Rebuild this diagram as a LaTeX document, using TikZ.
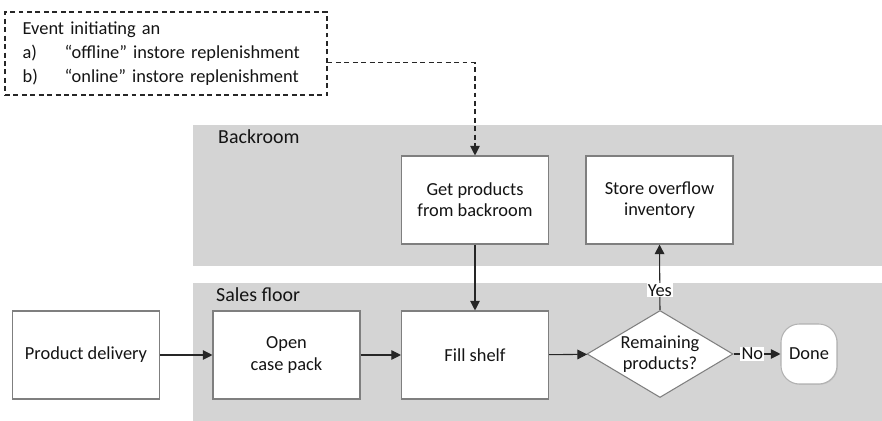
\documentclass[tikz,border=0pt]{standalone}
\usepackage{fontspec}
\setmainfont{Carlito}
\usetikzlibrary{arrows.meta,positioning,shapes.geometric,shadows}
\definecolor{fondo}{HTML}{D4D4D4}
\definecolor{borde}{HTML}{7F7F7F}
\definecolor{tinta}{HTML}{141414}
\definecolor{trazo}{HTML}{262626}
\tikzset{
  texto/.style={text=tinta,font=\fontsize{15.7}{18.2}\selectfont},
  paso/.style={texto,rectangle,draw=borde,fill=white,line width=0.9pt,minimum width=4.41cm,minimum height=2.64cm,align=center,inner sep=2pt},
  rombo/.style={diamond,draw=borde,fill=white,line width=0.9pt,minimum width=4.38cm,minimum height=2.61cm,inner sep=0pt},
  fin/.style={texto,rectangle,rounded corners=0.55cm,draw=borde!60,fill=white,line width=0.9pt,minimum width=1.68cm,minimum height=1.8cm,inner sep=0pt,
    drop shadow={shadow xshift=0.7pt,shadow yshift=-0.7pt,fill=black!30}},
  evento/.style={texto,font=\fontsize{15.7}{20.4}\selectfont,rectangle,draw=trazo,dash pattern=on 4.2pt off 3pt,line width=0.9pt,minimum width=9.66cm,minimum height=2.49cm,text width=8.6cm,align=left,inner xsep=0.53cm},
  zona/.style={text=tinta,font=\fontsize{17}{20}\selectfont,inner sep=0pt,anchor=west},
  flujo/.style={draw=trazo,line width=0.9pt,-{Triangle[length=2.9mm,width=2.9mm]}},
  flujoev/.style={flujo,dash pattern=on 4.2pt off 3pt},
  resp/.style={texto,fill=white,inner sep=1pt},
}

\begin{document}
\begin{tikzpicture}[x=0.03cm,y=-0.03cm]
  \useasboundingbox (0,0) rectangle (882,421);
  % store areas
  \fill[fondo] (193,125) rectangle (882,266);
  \fill[fondo] (193,283) rectangle (882,421);
  \node[zona] (backroom) at (218,137) {Backroom};
  \node[zona] (salesfloor) at (216,295) {Sales floor};
  % trigger
  \node[evento] (event) at (166,53.5) {Event initiating an\\
    \makebox[1.26cm][l]{a)}“offline” instore replenishment\\
    \makebox[1.26cm][l]{b)}“online” instore replenishment};
  % process steps
  \node[paso] (getprod) at (475,200) {Get products\\from backroom};
  \node[paso] (overflow) at (659.5,200) {Store overflow\\inventory};
  \node[paso] (delivery) at (86,355) {Product delivery};
  \node[paso] (opencase) at (286.5,355) {Open\\case pack};
  \node[paso] (fillshelf) at (475,355) {Fill shelf};
  \node[rombo,label={[texto,align=center]center:Remaining\\products?}] (remaining) at (660,354) {};
  \node[fin] (done) at (809,354) {Done};
  % connectors
  \draw[flujoev] ([yshift=-0.28cm]event.east) -| (getprod.north);
  \draw[flujo] (getprod) -- (fillshelf);
  \draw[flujo] (delivery) -- (opencase);
  \draw[flujo] (opencase) -- (fillshelf);
  \draw[flujo] (fillshelf) -- (remaining);
  \draw[flujo] (remaining.north) -- node[resp,pos=0.3] {Yes} (overflow.south);
  \draw[flujo] (remaining.east) -- node[resp,pos=0.4] {No} (done.west);
\end{tikzpicture}
\end{document}
